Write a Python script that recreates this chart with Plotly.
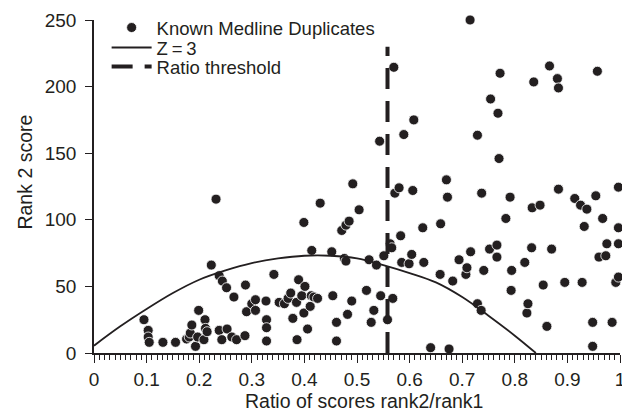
import plotly.graph_objects as go

# Scatter data: known Medline duplicates (ratio rank2/rank1, rank 2 score)
dup_ratio = [
    0.095, 0.103, 0.103, 0.105, 0.131, 0.155, 0.176, 0.181, 0.183, 0.186, 0.193, 0.197, 0.199,
    0.209, 0.211, 0.212, 0.215, 0.223, 0.232, 0.238, 0.244, 0.252, 0.266, 0.238, 0.243, 0.253,
    0.262, 0.271, 0.287, 0.288, 0.290, 0.300, 0.307, 0.307, 0.327, 0.328, 0.328, 0.328, 0.342,
    0.352, 0.362, 0.369, 0.374, 0.378, 0.385, 0.386, 0.389, 0.395, 0.399, 0.399, 0.401, 0.406,
    0.411, 0.413, 0.418, 0.425, 0.414, 0.430, 0.452, 0.454, 0.461, 0.461, 0.471, 0.476, 0.479,
    0.479, 0.485, 0.482, 0.490, 0.492, 0.504, 0.518, 0.523, 0.527, 0.532, 0.537, 0.545, 0.543,
    0.551, 0.558, 0.563, 0.566, 0.568, 0.570, 0.572, 0.580, 0.583, 0.585, 0.589, 0.599, 0.604,
    0.606, 0.608, 0.625, 0.627, 0.640, 0.658, 0.659, 0.670, 0.672, 0.675, 0.682, 0.694, 0.707,
    0.709, 0.715, 0.716, 0.729, 0.729, 0.736, 0.737, 0.741, 0.752, 0.754, 0.766, 0.766, 0.768,
    0.770, 0.772, 0.783, 0.791, 0.793, 0.794, 0.819, 0.823, 0.825, 0.832, 0.833, 0.836, 0.848,
    0.854, 0.861, 0.866, 0.870, 0.881, 0.883, 0.883, 0.895, 0.914, 0.925, 0.928, 0.932, 0.937,
    0.948, 0.948, 0.954, 0.957, 0.960, 0.967, 0.973, 0.975, 0.985, 0.992, 0.997, 0.997, 0.997,
    0.997,
]
dup_score = [
    25, 17, 12, 8, 8, 8, 10.5, 12, 15, 21, 5, 12, 32,
    10, 25, 18.5, 16, 66, 115.5, 58, 54, 49, 42, 17, 10, 18,
    12, 10, 13, 51, 31, 37, 40, 32, 39, 25, 19, 9, 59,
    38, 37, 41, 45, 26, 38, 10, 55, 43, 30, 98, 50, 18,
    35, 43, 42, 41, 77, 112.5, 76, 43, 23, 9, 92, 71, 69,
    96, 99, 29, 39, 127, 107.5, 47, 70, 23, 32, 66, 43, 159,
    73, 25, 82, 79, 41, 214.5, 120, 124, 88, 68, 164, 67, 74,
    122, 175, 94, 68, 4, 59, 97, 130, 117, 3, 54, 70, 59,
    64, 250, 76, 37, 163.5, 32, 120, 62, 78, 190.7, 81, 72, 180,
    146, 210, 101, 117, 47, 62, 68, 30, 37, 79, 109, 203.5, 111,
    51, 20, 215.5, 78, 206, 199, 123, 53, 116, 111, 53, 95, 108,
    23, 5, 118, 211.5, 72, 101, 73, 82, 23, 53, 57, 82, 94,
    124.5,
]

# Z = 3 curve
z3_ratio = [0, 0.05, 0.1, 0.15, 0.2, 0.25, 0.3, 0.35, 0.4, 0.45, 0.5, 0.55, 0.6, 0.65, 0.7, 0.75, 0.8, 0.84]
z3_score = [5.5, 20, 33, 45, 55, 62, 67.5, 71, 73, 73, 71, 66, 60, 53, 42, 28, 13, 0]

# Ratio threshold
threshold_ratio = [0.558, 0.558]
threshold_score = [0, 230]

x_tickvals = [0, 0.1, 0.2, 0.3, 0.4, 0.5, 0.6, 0.7, 0.8, 0.9, 1]
x_ticktext = ["0", "0.1", "0.2", "0.3", "0.4", "0.5", "0.6", "0.7", "0.8", "0.9", "1"]
y_tickvals = [0, 50, 100, 150, 200, 250]
y_ticktext = ["0", "50", "100", "150", "200", "250"]

INK = "#231f20"
FONT = "Liberation Sans, Arial, sans-serif"

fig = go.Figure()
fig.add_trace(go.Scatter(
    x=dup_ratio, y=dup_score, mode="markers", name="Known Medline Duplicates",
    marker=dict(color=INK, size=10, line=dict(color="white", width=0.8)),
    cliponaxis=False, legend="legend",
))
fig.add_trace(go.Scatter(
    x=z3_ratio, y=z3_score, mode="lines", name="Z\u2009=\u20093",
    line=dict(color=INK, width=1.8, shape="spline"), legend="legend2",
))
fig.add_trace(go.Scatter(
    x=threshold_ratio, y=threshold_score, mode="lines", name="Ratio threshold",
    line=dict(color=INK, width=4, dash="21px,12px"), legend="legend3",
))

leg_common = dict(x=0.024, xanchor="left", yanchor="middle",
                  bgcolor="rgba(0,0,0,0)", font=dict(size=18.5, color=INK),
                  itemwidth=40)

fig.update_layout(
    width=622, height=418,
    margin=dict(l=94, r=2, t=20, b=65, autoexpand=False),
    paper_bgcolor="white", plot_bgcolor="white",
    font=dict(family=FONT, color=INK, size=19),
    showlegend=True,
    legend=dict(y=0.976, **leg_common),
    legend2=dict(y=0.916, **leg_common),
    legend3=dict(y=0.859, **leg_common),
    xaxis=dict(
        range=[0, 1], showgrid=False, zeroline=False,
        showline=True, linecolor=INK, linewidth=1.5,
        ticks="outside", ticklen=8, tickwidth=1.2, tickcolor=INK,
        tickvals=x_tickvals, ticktext=x_ticktext,
        tickfont=dict(size=19, color=INK), ticklabeloverflow="allow",
        minor=dict(dtick=0.01, tick0=0, ticks="outside", ticklen=5, tickwidth=1, tickcolor=INK),
    ),
    yaxis=dict(
        range=[0, 250], showgrid=False, zeroline=False,
        showline=True, linecolor=INK, linewidth=1.5,
        ticks="outside", ticklen=7, tickwidth=1.2, tickcolor=INK,
        tickvals=y_tickvals, ticktext=y_ticktext,
        tickfont=dict(size=19, color=INK), ticklabelstandoff=5,
    ),
    annotations=[
        dict(text="Ratio of scores rank2/rank1", xref="paper", yref="paper",
             x=0.514, y=-0.144, xanchor="center", yanchor="middle",
             showarrow=False, font=dict(size=19.5, color=INK)),
        dict(text="Rank 2 score", xref="paper", yref="paper",
             x=-0.133, y=0.542, xanchor="center", yanchor="middle", textangle=-90,
             showarrow=False, font=dict(size=19.5, color=INK)),
    ],
)

fig.write_html(
    "out.html",
    config={"displayModeBar": False},
    post_script="document.body.style.margin='0';document.body.style.overflow='hidden';",
)
